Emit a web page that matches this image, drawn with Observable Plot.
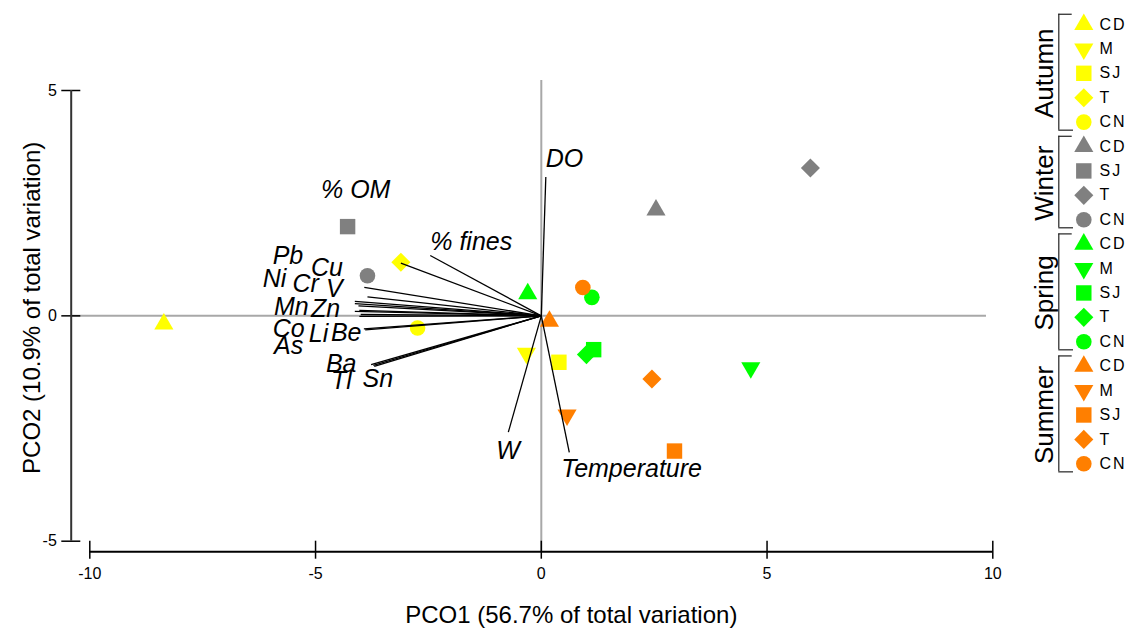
<!DOCTYPE html>
<html>
<head>
<meta charset="utf-8">
<script src="https://cdn.jsdelivr.net/npm/d3@7"></script>
<script src="https://cdn.jsdelivr.net/npm/@observablehq/plot@0.6"></script>
<style>
  html, body { margin: 0; padding: 0; background: #fff; }
  #chart { position: relative; width: 1133px; height: 633px; overflow: hidden; }
  #chart svg { position: absolute; top: 0; }
  .site-label text { letter-spacing: 2px; }
</style>
</head>
<body>
<div id="chart"></div>
<script>
// Seasons, their colours and the sampling sites
const seasons = ["Autumn", "Winter", "Spring", "Summer"];
const seasonColors = ["#ffff00", "#808080", "#00ff00", "#ff7f00"];
const siteCodes = ["CD", "M", "SJ", "T", "CN"];

// PCO scores of each sample (season, site, PCO1, PCO2)
const sampleSeason = ["Autumn","Autumn","Autumn","Autumn","Autumn",
                      "Winter","Winter","Winter","Winter",
                      "Spring","Spring","Spring","Spring","Spring",
                      "Summer","Summer","Summer","Summer","Summer"];
const sampleSite   = ["CD","M","SJ","T","CN",
                      "CD","SJ","T","CN",
                      "CD","M","SJ","T","CN",
                      "CD","M","SJ","T","CN"];
const samplePco1   = [-8.36, -0.33, 0.39, -3.11, -2.74,
                       2.54, -4.29, 5.96, -3.85,
                      -0.30, 4.64, 1.16, 1.00, 1.12,
                       0.18, 0.57, 2.95, 2.45, 0.92];
const samplePco2   = [-0.18, -0.83, -1.03, 1.19, -0.27,
                       2.35, 1.98, 3.28, 0.89,
                       0.49, -1.15, -0.75, -0.86, 0.41,
                      -0.12, -2.20, -3.00, -1.40, 0.63];

// Environmental variable vectors (correlations projected on PCO1/PCO2)
const vecNames = ["DO","W","Temperature","% fines","% OM",
                  "Pb","Cu","Ni","Cr","V","Mn","Zn","Co","As","Li","Be","Ba","Tl","Sn"];
const vecPco1  = [0.10, -0.73, 0.62, -2.46, -3.11,
                  -3.92, -3.85, -4.13, -4.13, -4.05, -4.13, -4.03, -4.03, -4.00, -3.93, -3.90, -3.77, -3.70, -3.72];
const vecPco2  = [3.08, -2.58, -3.03, 1.34, 1.17,
                  0.63, 0.42, 0.32, 0.27, 0.22, 0.10, 0.12, -0.01, 0.03, -0.29, -0.31, -1.08, -1.12, -1.10];

// Where each vector name is written (start of text, baseline)
const labelPco1 = [0.10, -1.00, 0.44, -2.46, -4.88,
                   -5.95, -5.10, -6.17, -5.51, -4.77, -5.92, -5.10, -5.95, -5.92, -5.15, -4.66, -4.77, -4.66, -3.96];
const labelPco2 = [3.30, -3.17, -3.57, 1.45, 2.62,
                   1.16, 0.89, 0.63, 0.52, 0.41, 0.01, -0.03, -0.47, -0.84, -0.59, -0.55, -1.25, -1.62, -1.58];

// Axis ticks and titles
const xTicks = [-10, -5, 0, 5, 10];
const yTicks = [-5, 0, 5];
const xTitle = "PCO1 (56.7% of total variation)";
const yTitle = "PCO2 (10.9% of total variation)";

const FONT = "'Liberation Sans', Arial, Helvetica, sans-serif";

const samples = sampleSeason.map((s, i) => ({
  season: s,
  site: sampleSite[i],
  pco1: samplePco1[i],
  pco2: samplePco2[i],
  color: seasonColors[seasons.indexOf(s)],
  index: i
}));
const vectors = vecNames.map((n, i) => ({name: n, pco1: vecPco1[i], pco2: vecPco2[i]}));
const labels = vecNames.map((n, i) => ({name: n, pco1: labelPco1[i], pco2: labelPco2[i]}));

// Marker shape for each site: triangle, inverted triangle, square, diamond, circle
const siteShapes = {
  CD: {symbol: "triangle", r: 7.1, rotate: 0},
  M:  {symbol: "triangle", r: 7.1, rotate: 180},
  SJ: {symbol: "square", r: 8.7, rotate: 0},
  T:  {symbol: "diamond2", r: 8.6, rotate: 0},
  CN: {symbol: "circle", r: 7.8, rotate: 0}
};
function siteDots(data, xOpt, yOpt) {
  return siteCodes.map(code => Plot.dot(data.filter(d => d.site === code), {
    x: xOpt, y: yOpt,
    symbol: siteShapes[code].symbol,
    r: siteShapes[code].r,
    rotate: siteShapes[code].rotate,
    fill: "color",
    stroke: "none"
  }));
}

const main = Plot.plot({
  width: 1133,
  height: 633,
  marginLeft: 89.3,
  marginRight: 140.7,
  marginTop: 90,
  marginBottom: 92.3,
  x: {domain: [-10, 10], label: null},
  y: {domain: [-5, 5], label: null},
  color: {type: "identity"},
  style: {fontFamily: FONT, fontSize: "16px", color: "#000", background: "transparent"},
  marks: [
    // zero reference lines
    Plot.ruleY([0], {x1: -10.41, x2: 9.86, stroke: "#a8a8a8", strokeWidth: 2}),
    Plot.ruleX([0], {y1: -5.23, y2: 5.22, stroke: "#a8a8a8", strokeWidth: 2}),
    // axes, drawn detached from the frame
    Plot.axisX({ticks: xTicks, tickSize: 18, tickPadding: 8, strokeWidth: 1.5, tickFormat: d => String(d), label: null}),
    Plot.axisY({ticks: yTicks, tickSize: 19, tickPadding: 5, dx: -9, strokeWidth: 1.5, tickFormat: d => String(d), label: null}),
    Plot.ruleY([-5], {x1: -10, x2: 10, dy: 10.5, stroke: "#000", strokeWidth: 2}),
    Plot.ruleX([-10], {y1: -5, y2: 5, dx: -18.6, stroke: "#333", strokeWidth: 2}),
    // sample scores
    ...siteDots(samples, "pco1", "pco2"),
    // variable vectors from the origin
    Plot.link(vectors, {x1: 0, y1: 0, x2: "pco1", y2: "pco2", stroke: "#000", strokeWidth: 1.3}),
    Plot.text(labels, {x: "pco1", y: "pco2", text: "name", textAnchor: "start", lineAnchor: "bottom",
                       fontSize: 25, fontStyle: "italic", fill: "#000"}),
    // axis titles
    Plot.text([xTitle], {frameAnchor: "bottom", textAnchor: "middle", lineAnchor: "middle",
                         dx: 30, dy: 74, fontSize: 24, fill: "#000"}),
    Plot.text([yTitle], {frameAnchor: "left", textAnchor: "middle", lineAnchor: "middle", rotate: -90,
                         dx: -57.8, dy: -8, fontSize: 24, fill: "#000"})
  ]
});
main.style.left = "0px";

// Legend: one row per sample group, bracketed by season
const groups = seasons.map(s => {
  const idx = samples.filter(d => d.season === s).map(d => d.index);
  return {season: s, first: d3.min(idx), last: d3.max(idx)};
});
const legend = Plot.plot({
  width: 113,
  height: 633,
  margin: 0,
  x: {domain: [0, 113], range: [0, 113], axis: null},
  y: {domain: [0, 18], range: [24, 463.3], axis: null},
  color: {type: "identity"},
  style: {fontFamily: FONT, background: "transparent"},
  marks: [
    Plot.ruleX(groups, {x: 38.3, y1: d => d.first - 0.42, y2: d => d.last + 0.33, stroke: "#222", strokeWidth: 1.2}),
    Plot.ruleY(groups, {y: d => d.first - 0.42, x1: 38.3, x2: 51.7, stroke: "#222", strokeWidth: 1.2}),
    Plot.ruleY(groups, {y: d => d.last + 0.33, x1: 38.3, x2: 53, stroke: "#222", strokeWidth: 1.2}),
    Plot.text(groups, {x: 24, y: d => (d.first + d.last) / 2, text: "season", rotate: -90,
                       textAnchor: "middle", lineAnchor: "middle", fontSize: 26, fill: "#000"}),
    ...siteDots(samples, () => 63.3, "index"),
    Plot.text(samples, {x: 79, y: "index", text: "site", textAnchor: "start", fontSize: 16,
                        fill: "#000", className: "site-label"})
  ]
});
legend.style.left = "1020px";

const chart = document.getElementById("chart");
chart.appendChild(main);
chart.appendChild(legend);
</script>
</body>
</html>
